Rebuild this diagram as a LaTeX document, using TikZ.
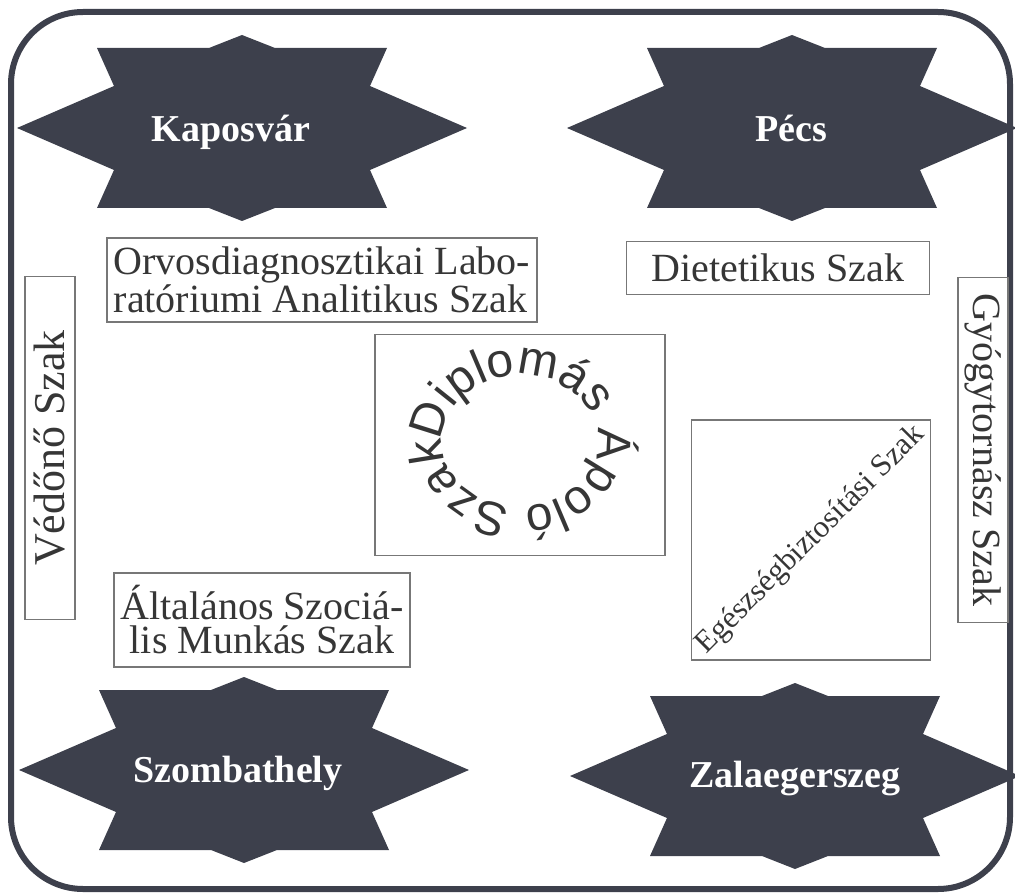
\documentclass[tikz,border=0pt]{standalone}
\usepackage{fontspec}
\setmainfont{Liberation Serif}
\newfontfamily\ringfont{Liberation Sans}
\usetikzlibrary{decorations.text}

\definecolor{slate}{HTML}{3D404C}
\definecolor{boxline}{HTML}{777777}
\definecolor{ink}{HTML}{363636}

\tikzset{
  frame/.style={draw=slate, line width=6pt, rounded corners=72pt},
  citystar/.pic={
    \fill[slate] (0,93) -- (33,80) -- (145,80) -- (128,42) -- (225,0)
      -- (128,-42) -- (145,-80) -- (33,-80) -- (0,-93) -- (-33,-80)
      -- (-145,-80) -- (-128,-42) -- (-225,0) -- (-128,42) -- (-145,80)
      -- (-33,80) -- cycle;
  },
  city/.style={anchor=base, text=white, font=\bfseries\fontsize{38}{40}\selectfont},
  szak/.style={draw=boxline, line width=1.4pt, text=ink, inner sep=0pt,
    font=\fontsize{40}{34}\selectfont},
}

\begin{document}
\begin{tikzpicture}[x=1pt,y=1pt]
  \useasboundingbox (0,0) rectangle (1015,-896);
  \path[frame] (11,-12) rectangle (1010,-889);

  % the four towns
  \pic at (242,-128) {citystar};
  \pic at (792,-128) {citystar};
  \pic at (244,-770) {citystar};
  \pic at (795,-776) {citystar};
  \node[city] (kaposvar) at (231,-142) {Kaposvár};
  \node[city] (pecs)     at (791,-142) {Pécs};
  \node[city] (szombat)  at (238,-782) {Szombathely};
  \node[city] (zala)     at (795,-787) {Zalaegerszeg};

  % the courses
  \node[szak, minimum width=430, minimum height=84, align=left] (labor) at (322,-280)
    {Orvosdiagnosztikai Labo-\\ratóriumi Analitikus Szak};
  \node[szak, minimum width=303, minimum height=53] (diet) at (778,-268)
    {Dietetikus Szak};
  \node[szak, minimum width=345, minimum height=50, rotate=-90] (gyogy) at (983,-450)
    {Gyógytornász Szak};
  \node[szak, minimum width=343, minimum height=50, rotate=90,
    font=\fontsize{44}{44}\selectfont] (vedono) at (50,-448)
    {Védőnő Szak};
  \node[szak, minimum width=296, minimum height=94, align=center] (szoc) at (262,-620)
    {Általános Szociá-\\lis Munkás Szak};
  \node[szak, minimum width=239, minimum height=240] (biztos) at (811,-540) {};
  \node[text=ink, rotate=45, font=\fontsize{31}{31}\selectfont] (biztostext)
    at (biztos.center) {Egészségbiztosítási Szak};
  \node[szak, minimum width=290, minimum height=221] (apolo) at (520,-445) {};

  \path[decorate, decoration={text along path, text align=fit to path,
      text={|\ringfont\fontsize{48}{48}\selectfont\color{ink}|Diplomás Ápoló Szak}}]
    (apolo.center) ++(0,4) ++(180:78 and 66)
    arc[start angle=180, end angle=-180, x radius=78, y radius=66];
\end{tikzpicture}
\end{document}
